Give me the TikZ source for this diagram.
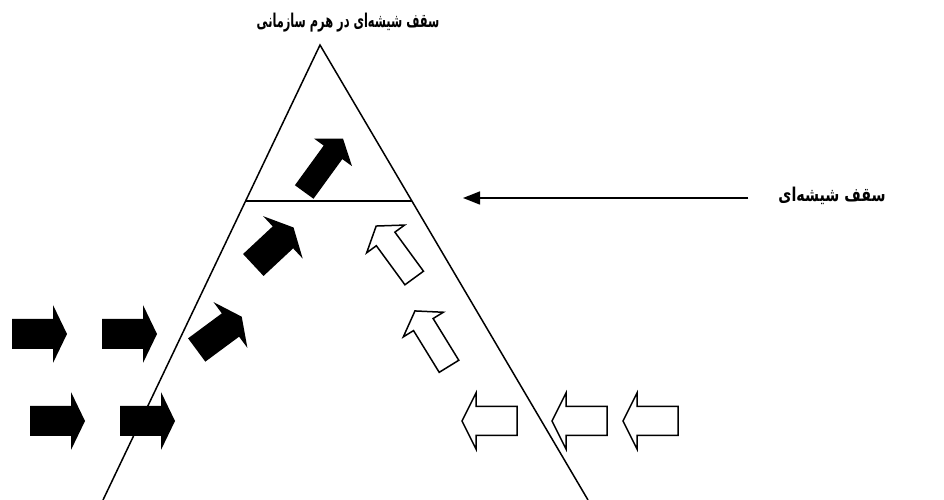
\documentclass[tikz,border=0pt]{standalone}
\usepackage{fontspec}
\newfontfamily\titlefont[Script=Arabic, FakeStretch=0.6]{DejaVu Sans}
\newfontfamily\labelfont[Script=Arabic, FakeStretch=0.75]{DejaVu Sans}
\TeXXeTstate=1
\usetikzlibrary{arrows.meta,calc}

% block arrow: #1 style, #2 tail centre, #3 angle, #4 length, #5 head length, #6 body half width, #7 head half width
\newcommand\BArrow[7]{%
  \path[#1,shift={#2},rotate=#3] (0,-#6) -- ({#4-#5},-#6) -- ({#4-#5},-#7) -- (#4,0)
    -- ({#4-#5},#7) -- ({#4-#5},#6) -- (0,#6) -- cycle;}

\tikzset{
  leg/.style={line width=1.5pt, line join=miter},
  ceil/.style={line width=1.8pt},
  pointer/.style={line width=1.5pt, -{Triangle[length=17pt,width=13pt]}},
  blackarr/.style={fill=black},
  whitearr/.style={draw=black, fill=white, line width=1.5pt, line join=miter},
  ttl/.style={font=\titlefont\bfseries\fontsize{19}{22}\selectfont, inner sep=0pt},
  lbl/.style={font=\labelfont\bfseries\fontsize{19}{22}\selectfont, inner sep=0pt},
}

\begin{document}
\begin{tikzpicture}[x=1pt,y=1pt]
\useasboundingbox (0,0) rectangle (944,500);
\fill[white] (0,0) rectangle (944,500);

% pyramid
\coordinate (apex) at (320,455);
\coordinate (bl) at (103,0);
\coordinate (br) at (588,0);
\draw[leg] (bl) -- (apex) -- (br);
\coordinate (gl) at ($(apex)!156/455!(bl)$);
\coordinate (gr) at ($(apex)!156/455!(br)$);
\draw[ceil] (gl) -- (gr);

% texts
\node[ttl] (title) at (348,477) {\beginR سقف شیشه^^^^200cای در هرم سازمانی\endR};
\node[lbl] (ceillabel) at (832,304) {\beginR سقف شیشه^^^^200cای\endR};
\coordinate (ptr) at (463,302);
\draw[pointer] ($(ceillabel.west)+(-30,-2)$) -- (ptr);

% black horizontal arrows
\BArrow{blackarr}{(12,166)}{0}{55}{14}{15}{29}
\BArrow{blackarr}{(102,166)}{0}{55}{14}{15}{29}
\BArrow{blackarr}{(30,79)}{0}{55}{14}{15}{29}
\BArrow{blackarr}{(120,79)}{0}{55}{14}{15}{29}

% black rising arrows
\BArrow{blackarr}{(196.7,150)}{36.5}{56}{14}{14.5}{28.5}
\BArrow{blackarr}{(253.3,235)}{43}{55}{14.5}{15}{29}
\BArrow{blackarr}{(304.2,308)}{54}{66}{17}{11.5}{23.5}

% white rising arrows
\BArrow{whitearr}{(449,133.7)}{121.6}{65}{16}{11.5}{23.5}
\BArrow{whitearr}{(414.2,222)}{126.2}{64.4}{16}{11.5}{23.5}

% white horizontal arrows
\BArrow{whitearr}{(517,79)}{180}{55}{14}{14.5}{28}
\BArrow{whitearr}{(607,79)}{180}{55}{14}{14.5}{28}
\BArrow{whitearr}{(678,79)}{180}{55}{14}{14.5}{28}
\end{tikzpicture}
\end{document}
